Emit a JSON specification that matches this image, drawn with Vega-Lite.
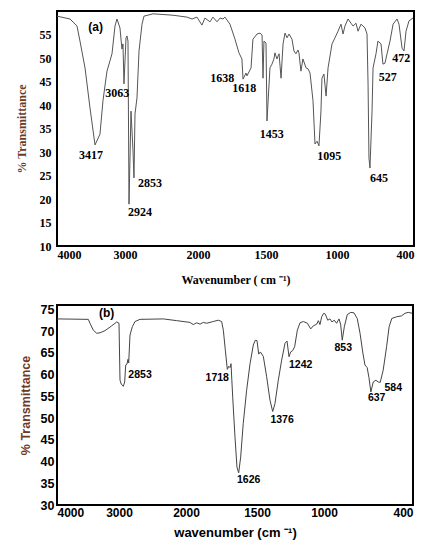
{
  "$schema": "https://vega.github.io/schema/vega-lite/v6.json",
  "background": "white",
  "padding": {"left": 14, "top": 10, "right": 10, "bottom": 5},
  "spacing": 16,
  "config": {
    "view": {"stroke": "black", "strokeWidth": 2},
    "axis": {"grid": false, "ticks": false, "domain": false, "labelColor": "black"}
  },
  "datasets": {
    "specA": [
      {"x": 4000, "y": 58.9}, {"x": 3809, "y": 58.3}, {"x": 3706, "y": 56.8}, {"x": 3662, "y": 53.6},
      {"x": 3588, "y": 47.9}, {"x": 3515, "y": 39.4}, {"x": 3441, "y": 31.5}, {"x": 3368, "y": 33.8},
      {"x": 3324, "y": 40.9}, {"x": 3265, "y": 47.2}, {"x": 3221, "y": 49.4}, {"x": 3191, "y": 50.9},
      {"x": 3147, "y": 56.8}, {"x": 3118, "y": 58.3}, {"x": 3074, "y": 56.4}, {"x": 3045, "y": 51.9},
      {"x": 3030, "y": 53.0}, {"x": 3015, "y": 44.5}, {"x": 2986, "y": 54.3}, {"x": 2973, "y": 54.7},
      {"x": 2959, "y": 53.6}, {"x": 2945, "y": 18.9}, {"x": 2918, "y": 38.7}, {"x": 2890, "y": 30.2},
      {"x": 2877, "y": 24.5}, {"x": 2863, "y": 38.1}, {"x": 2836, "y": 41.5}, {"x": 2808, "y": 51.5},
      {"x": 2767, "y": 57.2}, {"x": 2740, "y": 58.9}, {"x": 2616, "y": 59.4}, {"x": 2342, "y": 59.1},
      {"x": 2151, "y": 58.7}, {"x": 2082, "y": 58.3}, {"x": 2014, "y": 58.7}, {"x": 1971, "y": 57.0},
      {"x": 1949, "y": 58.5}, {"x": 1912, "y": 57.7}, {"x": 1890, "y": 58.7}, {"x": 1860, "y": 57.7},
      {"x": 1838, "y": 58.5}, {"x": 1816, "y": 58.3}, {"x": 1802, "y": 58.7}, {"x": 1765, "y": 57.2},
      {"x": 1728, "y": 54.0}, {"x": 1699, "y": 51.1}, {"x": 1677, "y": 49.8}, {"x": 1669, "y": 45.5},
      {"x": 1647, "y": 46.8}, {"x": 1640, "y": 46.2}, {"x": 1610, "y": 47.9}, {"x": 1596, "y": 54.0},
      {"x": 1566, "y": 55.1}, {"x": 1544, "y": 55.3}, {"x": 1529, "y": 54.9}, {"x": 1522, "y": 45.7},
      {"x": 1515, "y": 53.6}, {"x": 1500, "y": 53.2}, {"x": 1493, "y": 36.6}, {"x": 1472, "y": 47.9},
      {"x": 1458, "y": 48.7}, {"x": 1444, "y": 49.8}, {"x": 1437, "y": 51.1}, {"x": 1423, "y": 49.8},
      {"x": 1408, "y": 50.9}, {"x": 1394, "y": 45.7}, {"x": 1380, "y": 53.0}, {"x": 1366, "y": 55.3},
      {"x": 1352, "y": 54.3}, {"x": 1338, "y": 55.1}, {"x": 1317, "y": 54.0}, {"x": 1303, "y": 51.5},
      {"x": 1289, "y": 50.9}, {"x": 1275, "y": 51.7}, {"x": 1268, "y": 51.1}, {"x": 1254, "y": 47.2},
      {"x": 1240, "y": 49.8}, {"x": 1218, "y": 47.9}, {"x": 1204, "y": 47.7}, {"x": 1190, "y": 46.8},
      {"x": 1169, "y": 40.9}, {"x": 1155, "y": 31.7}, {"x": 1141, "y": 32.3}, {"x": 1127, "y": 31.3},
      {"x": 1113, "y": 38.7}, {"x": 1106, "y": 45.7}, {"x": 1092, "y": 46.6}, {"x": 1077, "y": 41.9},
      {"x": 1063, "y": 47.9}, {"x": 1035, "y": 53.0}, {"x": 1014, "y": 54.3}, {"x": 992, "y": 55.7},
      {"x": 969, "y": 57.2}, {"x": 953, "y": 55.1}, {"x": 938, "y": 56.8}, {"x": 914, "y": 58.3},
      {"x": 891, "y": 57.4}, {"x": 875, "y": 56.8}, {"x": 852, "y": 57.4}, {"x": 836, "y": 55.7},
      {"x": 813, "y": 57.2}, {"x": 782, "y": 56.4}, {"x": 766, "y": 55.1}, {"x": 758, "y": 44.5},
      {"x": 751, "y": 28.7}, {"x": 743, "y": 26.6}, {"x": 727, "y": 38.7}, {"x": 719, "y": 47.9},
      {"x": 696, "y": 50.9}, {"x": 681, "y": 53.6}, {"x": 657, "y": 53.0}, {"x": 642, "y": 48.7},
      {"x": 626, "y": 48.9}, {"x": 610, "y": 50.9}, {"x": 587, "y": 53.6}, {"x": 563, "y": 57.2},
      {"x": 532, "y": 58.3}, {"x": 517, "y": 57.2}, {"x": 493, "y": 52.1}, {"x": 478, "y": 51.5},
      {"x": 462, "y": 55.7}, {"x": 439, "y": 57.9}, {"x": 408, "y": 58.5}
    ],
    "peaksA": [
      {"x": 3500, "y": 29.3, "t": "3417"},
      {"x": 3113, "y": 42.6, "t": "3063"},
      {"x": 2657, "y": 23.3, "t": "2853"},
      {"x": 2795, "y": 17.3, "t": "2924"},
      {"x": 1821, "y": 45.7, "t": "1638"},
      {"x": 1660, "y": 43.7, "t": "1618"},
      {"x": 1460, "y": 33.9, "t": "1453"},
      {"x": 1054, "y": 29.1, "t": "1095"},
      {"x": 673, "y": 24.5, "t": "645"},
      {"x": 605, "y": 46.0, "t": "527"},
      {"x": 499, "y": 49.9, "t": "472"}
    ],
    "tagA": [{"x": 3431, "y": 56.6, "t": "(a)"}],
    "specB": [
      {"x": 4000, "y": 72.8}, {"x": 3495, "y": 72.7}, {"x": 3468, "y": 71.8}, {"x": 3414, "y": 70.2},
      {"x": 3360, "y": 69.5}, {"x": 3306, "y": 69.6}, {"x": 3226, "y": 70.1}, {"x": 3118, "y": 71.2},
      {"x": 3037, "y": 72.1}, {"x": 3000, "y": 71.8}, {"x": 2985, "y": 58.7}, {"x": 2966, "y": 57.8},
      {"x": 2936, "y": 57.3}, {"x": 2915, "y": 58.3}, {"x": 2900, "y": 62.2}, {"x": 2881, "y": 62.4},
      {"x": 2866, "y": 63.5}, {"x": 2855, "y": 62.7}, {"x": 2836, "y": 69.1}, {"x": 2801, "y": 71.0},
      {"x": 2761, "y": 72.2}, {"x": 2686, "y": 72.7}, {"x": 2338, "y": 72.8}, {"x": 2139, "y": 72.4},
      {"x": 1972, "y": 72.0}, {"x": 1949, "y": 71.5}, {"x": 1925, "y": 71.9}, {"x": 1901, "y": 71.6},
      {"x": 1878, "y": 72.0}, {"x": 1854, "y": 71.8}, {"x": 1808, "y": 72.2}, {"x": 1773, "y": 72.5},
      {"x": 1749, "y": 72.2}, {"x": 1737, "y": 70.2}, {"x": 1723, "y": 65.6}, {"x": 1709, "y": 61.2},
      {"x": 1699, "y": 61.9}, {"x": 1690, "y": 61.6}, {"x": 1683, "y": 62.5}, {"x": 1671, "y": 54.8},
      {"x": 1655, "y": 45.6}, {"x": 1641, "y": 38.7}, {"x": 1629, "y": 37.4}, {"x": 1615, "y": 41.0},
      {"x": 1597, "y": 48.7}, {"x": 1573, "y": 56.4}, {"x": 1549, "y": 62.5}, {"x": 1526, "y": 66.8},
      {"x": 1512, "y": 67.9}, {"x": 1500, "y": 67.8}, {"x": 1487, "y": 64.7}, {"x": 1475, "y": 65.2},
      {"x": 1453, "y": 64.2}, {"x": 1428, "y": 59.5}, {"x": 1403, "y": 54.1}, {"x": 1383, "y": 51.5},
      {"x": 1366, "y": 53.3}, {"x": 1341, "y": 58.7}, {"x": 1316, "y": 63.3}, {"x": 1291, "y": 67.2},
      {"x": 1276, "y": 67.7}, {"x": 1261, "y": 64.1}, {"x": 1249, "y": 65.2}, {"x": 1234, "y": 65.5},
      {"x": 1219, "y": 66.4}, {"x": 1199, "y": 70.2}, {"x": 1179, "y": 71.9}, {"x": 1154, "y": 72.2},
      {"x": 1124, "y": 71.8}, {"x": 1099, "y": 70.5}, {"x": 1080, "y": 71.2}, {"x": 1054, "y": 71.6},
      {"x": 1042, "y": 72.4}, {"x": 1030, "y": 71.5}, {"x": 1017, "y": 73.3}, {"x": 1002, "y": 74.1},
      {"x": 991, "y": 73.9}, {"x": 975, "y": 72.5}, {"x": 960, "y": 72.8}, {"x": 946, "y": 72.1},
      {"x": 931, "y": 72.5}, {"x": 915, "y": 71.8}, {"x": 899, "y": 72.8}, {"x": 888, "y": 71.6},
      {"x": 877, "y": 67.9}, {"x": 863, "y": 71.0}, {"x": 843, "y": 73.8}, {"x": 820, "y": 74.3},
      {"x": 798, "y": 74.2}, {"x": 776, "y": 72.9}, {"x": 757, "y": 69.5}, {"x": 739, "y": 65.2},
      {"x": 724, "y": 62.2}, {"x": 709, "y": 61.6}, {"x": 697, "y": 59.3}, {"x": 684, "y": 56.0},
      {"x": 668, "y": 58.3}, {"x": 650, "y": 58.7}, {"x": 635, "y": 58.3}, {"x": 621, "y": 58.2},
      {"x": 601, "y": 61.0}, {"x": 578, "y": 66.4}, {"x": 561, "y": 71.0}, {"x": 543, "y": 72.9},
      {"x": 510, "y": 73.3}, {"x": 477, "y": 73.5}, {"x": 454, "y": 74.1}, {"x": 432, "y": 74.3},
      {"x": 405, "y": 74.1}
    ],
    "peaksB": [
      {"x": 2686, "y": 60.0, "t": "2853"},
      {"x": 1780, "y": 59.1, "t": "1718"},
      {"x": 1559, "y": 35.8, "t": "1626"},
      {"x": 1313, "y": 49.6, "t": "1376"},
      {"x": 1174, "y": 62.3, "t": "1242"},
      {"x": 870, "y": 66.0, "t": "853"},
      {"x": 645, "y": 54.5, "t": "637"},
      {"x": 533, "y": 56.8, "t": "584"}
    ],
    "tagB": [{"x": 3199, "y": 74.1, "t": "(b)"}]
  },
  "vconcat": [
    {
      "width": 357,
      "height": 235,
      "encoding": {
        "x": {
          "field": "x",
          "type": "quantitative",
          "scale": {"domain": [4000, 3000, 2000, 1500, 1000, 400], "range": [0, 68, 141, 209, 280, 357], "nice": false, "zero": false},
          "axis": {
            "values": [4000, 3000, 2000, 1500, 1000, 400], "format": "d",
            "labelFont": "Liberation Serif", "labelFontWeight": "bold", "labelFontSize": 12, "labelPadding": 3,
            "title": "Wavenumber ( cm ⁻¹)", "titleFont": "Liberation Serif", "titleFontWeight": "bold", "titleFontSize": 12, "titlePadding": 14, "titleColor": "black"
          }
        },
        "y": {
          "field": "y",
          "type": "quantitative",
          "scale": {"domain": [10, 60], "nice": false, "zero": false},
          "axis": {
            "values": [10, 15, 20, 25, 30, 35, 40, 45, 50, 55], "format": "d",
            "labelFont": "Liberation Serif", "labelFontWeight": "bold", "labelFontSize": 12, "labelPadding": 6,
            "title": "% Transmittance", "titleFont": "Liberation Serif", "titleFontWeight": "bold", "titleFontSize": 12, "titleX": -29, "titleColor": "#6e3a1f"
          }
        }
      },
      "layer": [
        {"data": {"name": "specA"}, "mark": {"type": "line", "color": "#555555", "strokeWidth": 1}},
        {"data": {"name": "peaksA"}, "mark": {"type": "text", "font": "Liberation Serif", "fontWeight": "bold", "fontSize": 12, "color": "black"}, "encoding": {"text": {"field": "t"}}},
        {"data": {"name": "tagA"}, "mark": {"type": "text", "font": "Liberation Sans", "fontWeight": "bold", "fontSize": 12, "color": "black"}, "encoding": {"text": {"field": "t"}}}
      ]
    },
    {
      "width": 356,
      "height": 200,
      "encoding": {
        "x": {
          "field": "x",
          "type": "quantitative",
          "scale": {"domain": [4000, 3000, 2000, 1500, 1000, 400], "range": [0, 62, 129, 200, 267, 356], "nice": false, "zero": false},
          "axis": {
            "values": [4000, 3000, 2000, 1500, 1000, 400], "format": "d",
            "labelFont": "Liberation Sans", "labelFontWeight": "bold", "labelFontSize": 12, "labelPadding": 2,
            "title": "wavenumber (cm ⁻¹)", "titleFont": "Liberation Sans", "titleFontWeight": "bold", "titleFontSize": 13, "titlePadding": 8, "titleColor": "black"
          }
        },
        "y": {
          "field": "y",
          "type": "quantitative",
          "scale": {"domain": [30, 76], "nice": false, "zero": false},
          "axis": {
            "values": [30, 35, 40, 45, 50, 55, 60, 65, 70, 75], "format": "d",
            "labelFont": "Liberation Sans", "labelFontWeight": "bold", "labelFontSize": 12.5, "labelPadding": 3,
            "title": "% Transmittance", "titleFont": "Liberation Sans", "titleFontWeight": "bold", "titleFontSize": 12.5, "titleX": -25, "titleColor": "#6e3a1f"
          }
        }
      },
      "layer": [
        {"data": {"name": "specB"}, "mark": {"type": "line", "color": "#444444", "strokeWidth": 1}},
        {"data": {"name": "peaksB"}, "mark": {"type": "text", "font": "Liberation Sans", "fontWeight": "bold", "fontSize": 10.5, "color": "black"}, "encoding": {"text": {"field": "t"}}},
        {"data": {"name": "tagB"}, "mark": {"type": "text", "font": "Liberation Sans", "fontWeight": "bold", "fontSize": 12, "color": "black"}, "encoding": {"text": {"field": "t"}}}
      ]
    }
  ]
}
